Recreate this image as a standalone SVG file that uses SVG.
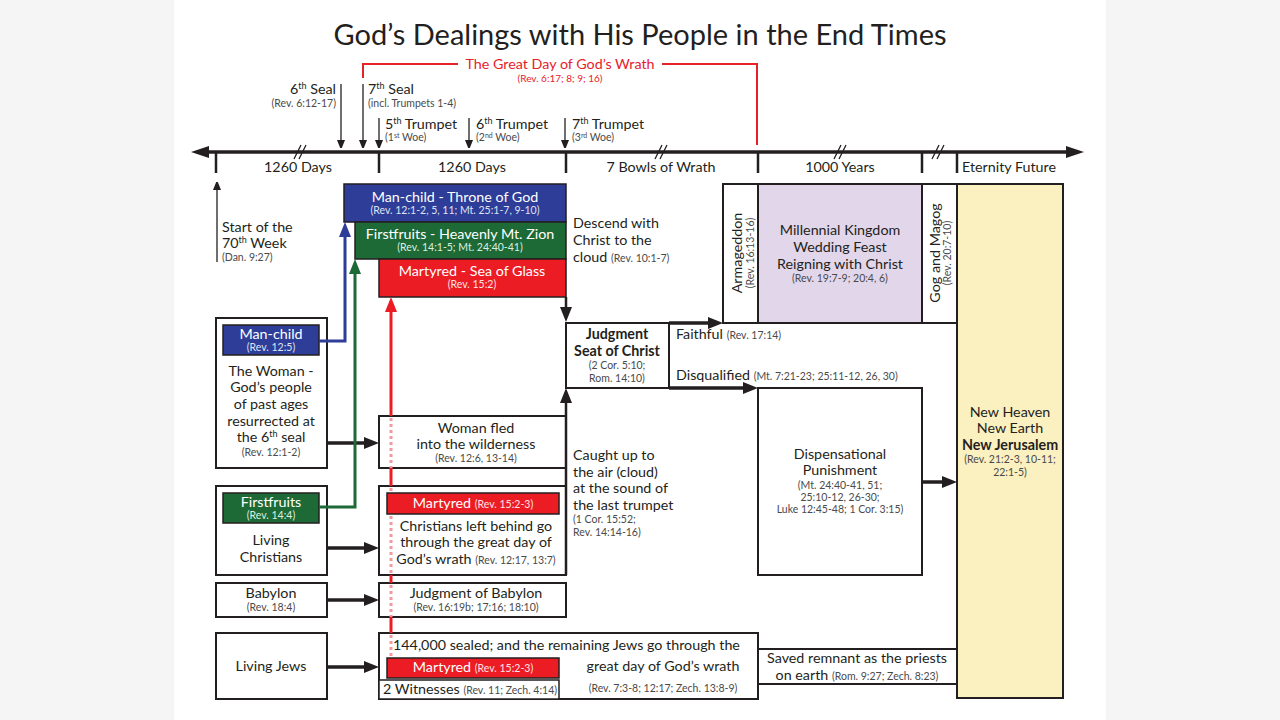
<svg xmlns="http://www.w3.org/2000/svg" width="1280" height="720" viewBox="0 0 1280 720">
<style>
text{font-family:Lato,"Liberation Sans",sans-serif;fill:#231f20}
.m{font-size:14.3px}
.s{font-size:10.5px;fill:#4a4a4a}
.w{fill:#fff}
.ws{fill:#fbe3e4}
.c{text-anchor:middle}
.e{text-anchor:end}
.b{font-weight:bold}
.box{fill:#fff;stroke:#231f20;stroke-width:2}
.blue{fill:#2e3d98;stroke:#231f20;stroke-width:1.5}
.green{fill:#1d6a36;stroke:#231f20;stroke-width:1.5}
.redbox{fill:#ec1c24;stroke:#231f20;stroke-width:1.5}
.thick{stroke:#231f20;stroke-width:3.5;fill:none}
.thin{stroke:#231f20;stroke-width:1.3;fill:none}
.tick{stroke:#231f20;stroke-width:2.5}
</style>
<defs>
<marker id="ah" markerUnits="userSpaceOnUse" markerWidth="15" markerHeight="12" refX="5" refY="6" orient="auto"><path d="M0,0 L15,6 L0,12 z" fill="#231f20"/></marker>
<marker id="at" markerUnits="userSpaceOnUse" markerWidth="18" markerHeight="12" refX="4" refY="6" orient="auto-start-reverse"><path d="M0,0 L18,6 L0,12 z" fill="#231f20"/></marker>
<marker id="as" markerUnits="userSpaceOnUse" markerWidth="8" markerHeight="10" refX="2" refY="4" orient="auto"><path d="M0,0 L10,4 L0,8 z" fill="#231f20"/></marker>
<marker id="ab" markerUnits="userSpaceOnUse" markerWidth="15" markerHeight="12" refX="5" refY="6" orient="auto"><path d="M0,0 L15,6 L0,12 z" fill="#2e3d98"/></marker>
<marker id="ag" markerUnits="userSpaceOnUse" markerWidth="15" markerHeight="12" refX="5" refY="6" orient="auto"><path d="M0,0 L15,6 L0,12 z" fill="#1d6a36"/></marker>
<marker id="ar" markerUnits="userSpaceOnUse" markerWidth="15" markerHeight="12" refX="5" refY="6" orient="auto"><path d="M0,0 L15,6 L0,12 z" fill="#ec1c24"/></marker>
</defs>
<rect x="0" y="0" width="1280" height="720" fill="#f5f5f5"/>
<rect x="174" y="0" width="932" height="720" fill="#fff"/>

<text x="640" y="45" class="c" font-size="29">God’s Dealings with His People in the End Times</text>

<g id="timeline">
<path d="M363,78 V64 H458 M662,64 H757 V145" stroke="#e8202a" stroke-width="2" fill="none"/>
<text x="560" y="69" class="c" font-size="14.3" style="fill:#e8202a">The Great Day of God’s Wrath</text>
<text x="560" y="82" class="c" font-size="10" style="fill:#e8202a">(Rev. 6:17; 8; 9; 16)</text>
<path d="M205,152 H1070" stroke="#231f20" stroke-width="3.5" marker-start="url(#at)" marker-end="url(#at)"/>
<path class="tick" d="M216,152 V173 M379,152 V173 M566,152 V173 M758,152 V173 M922,152 V173 M957,152 V173"/>
<path stroke="#231f20" stroke-width="1.3" d="M294,159 L301,145 M299,159 L306,145 M655,159 L662,145 M660,159 L667,145 M834,159 L841,145 M839,159 L846,145 M932,159 L939,145 M937,159 L944,145"/>
<text x="336" y="94" class="m e">6<tspan font-size="9" dy="-5">th</tspan><tspan dy="5"> Seal</tspan></text>
<text x="336" y="107" class="s e">(Rev. 6:12-17)</text>
<text x="368" y="94" class="m">7<tspan font-size="9" dy="-5">th</tspan><tspan dy="5"> Seal</tspan></text>
<text x="368" y="107" class="s">(incl. Trumpets 1-4)</text>
<text x="385" y="129" class="m">5<tspan font-size="9" dy="-5">th</tspan><tspan dy="5"> Trumpet</tspan></text>
<text x="385" y="141" class="s">(1<tspan font-size="7" dy="-3">st</tspan><tspan dy="3"> Woe)</tspan></text>
<text x="476" y="129" class="m">6<tspan font-size="9" dy="-5">th</tspan><tspan dy="5"> Trumpet</tspan></text>
<text x="476" y="141" class="s">(2<tspan font-size="7" dy="-3">nd</tspan><tspan dy="3"> Woe)</tspan></text>
<text x="572" y="129" class="m">7<tspan font-size="9" dy="-5">th</tspan><tspan dy="5"> Trumpet</tspan></text>
<text x="572" y="141" class="s">(3<tspan font-size="7" dy="-3">rd</tspan><tspan dy="3"> Woe)</tspan></text>
<text x="298" y="172" class="m c">1260 Days</text>
<text x="472" y="172" class="m c">1260 Days</text>
<text x="661" y="172" class="m c">7 Bowls of Wrath</text>
<text x="840" y="172" class="m c">1000 Years</text>
<text x="1009" y="172" class="m c">Eternity Future</text>
<text x="222" y="232" class="m">Start of the</text>
<text x="222" y="248" class="m">70<tspan font-size="9" dy="-5">th</tspan><tspan dy="5"> Week</tspan></text>
<text x="222" y="261" class="s">(Dan. 9:27)</text>
</g>

<g id="manchild-throne">
<rect x="344" y="184" width="222" height="38" class="blue"/>
<text x="455" y="202" class="m c w">Man-child - Throne of God</text>
<text x="455" y="214" class="s c" style="fill:#dfe3f5">(Rev. 12:1-2, 5, 11; Mt. 25:1-7, 9-10)</text>
</g>
<g id="firstfruits-zion">
<rect x="355" y="222" width="211" height="37" class="green"/>
<text x="460" y="239" class="m c w">Firstfruits - Heavenly Mt. Zion</text>
<text x="460" y="251" class="s c" style="fill:#dcefe0">(Rev. 14:1-5; Mt. 24:40-41)</text>
</g>
<g id="martyred-glass">
<rect x="379" y="259" width="187" height="38" class="redbox"/>
<text x="472" y="276" class="m c w">Martyred - Sea of Glass</text>
<text x="472" y="288" class="s c ws">(Rev. 15:2)</text>
</g>
<g id="descend-label">
<text x="573" y="228" class="m">Descend with</text>
<text x="573" y="245" class="m">Christ to the</text>
<text x="573" y="262" class="m">cloud <tspan class="s">(Rev. 10:1-7)</tspan></text>
</g>

<g id="woman">
<rect x="216" y="318" width="111" height="150" class="box"/>
<rect x="223" y="325" width="96" height="30" class="blue"/>
<text x="271" y="339" class="m c w">Man-child</text>
<text x="271" y="351" class="s c" style="fill:#dfe3f5">(Rev. 12:5)</text>
<text x="271" y="376" class="m c">The Woman -</text>
<text x="271" y="392" class="m c">God’s people</text>
<text x="271" y="409" class="m c">of past ages</text>
<text x="271" y="426" class="m c">resurrected at</text>
<text x="271" y="442" class="m c">the 6<tspan font-size="9" dy="-5">th</tspan><tspan dy="5"> seal</tspan></text>
<text x="271" y="456" class="s c">(Rev. 12:1-2)</text>
</g>
<g id="woman-fled">
<rect x="379" y="416" width="187" height="52" class="box"/>
<text x="476" y="433" class="m c">Woman fled</text>
<text x="476" y="449" class="m c">into the wilderness</text>
<text x="476" y="462" class="s c">(Rev. 12:6, 13-14)</text>
</g>
<g id="living-christians">
<rect x="216" y="486" width="111" height="89" class="box"/>
<rect x="223" y="493" width="96" height="30" class="green"/>
<text x="271" y="507" class="m c w">Firstfruits</text>
<text x="271" y="519" class="s c" style="fill:#dcefe0">(Rev. 14:4)</text>
<text x="271" y="545" class="m c">Living</text>
<text x="271" y="562" class="m c">Christians</text>
</g>
<g id="christians-left">
<rect x="379" y="486" width="187" height="89" class="box"/>
<text x="476" y="531" class="m c">Christians left behind go</text>
<text x="476" y="547" class="m c">through the great day of</text>
<text x="476" y="564" class="m c">God’s wrath <tspan class="s">(Rev. 12:17, 13:7)</tspan></text>
</g>
<g id="babylon">
<rect x="216" y="583" width="111" height="34" class="box"/>
<text x="271" y="598" class="m c">Babylon</text>
<text x="271" y="611" class="s c">(Rev. 18:4)</text>
</g>
<g id="judgment-babylon">
<rect x="379" y="583" width="187" height="34" class="box"/>
<text x="476" y="598" class="m c">Judgment of Babylon</text>
<text x="476" y="611" class="s c">(Rev. 16:19b; 17:16; 18:10)</text>
</g>
<g id="living-jews">
<rect x="216" y="633" width="111" height="66" class="box"/>
<text x="271" y="671" class="m c">Living Jews</text>
</g>
<g id="jews-144000">
<rect x="379" y="633" width="379" height="66" class="box"/>
<text x="393" y="650" class="m">144,000 sealed; and the remaining Jews go through the</text>
<text x="663" y="671" class="m c">great day of God’s wrath</text>
<text x="663" y="692" class="s c">(Rev. 7:3-8; 12:17; Zech. 13:8-9)</text>
<rect x="379" y="680" width="180" height="19" fill="#fff" stroke="#231f20" stroke-width="1.5"/>
<text x="383" y="694" class="m">2 Witnesses <tspan class="s">(Rev. 11; Zech. 4:14)</tspan></text>
</g>
<g id="saved-remnant">
<rect x="758" y="649" width="199" height="35" class="box"/>
<text x="857" y="663" class="m c">Saved remnant as the priests</text>
<text x="857" y="680" class="m c">on earth <tspan class="s">(Rom. 9:27; Zech. 8:23)</tspan></text>
</g>
<g id="judgment-seat">
<rect x="566" y="323" width="103" height="65" class="box"/>
<text x="617" y="339" class="m c b">Judgment</text>
<text x="617" y="356" class="m c b">Seat of Christ</text>
<text x="617" y="369" class="s c">(2 Cor. 5:10;</text>
<text x="617" y="382" class="s c">Rom. 14:10)</text>
</g>
<g id="caught-up-label">
<text x="573" y="460" class="m">Caught up to</text>
<text x="573" y="477" class="m">the air (cloud)</text>
<text x="573" y="493" class="m">at the sound of</text>
<text x="573" y="510" class="m">the last trumpet</text>
<text x="573" y="523" class="s">(1 Cor. 15:52;</text>
<text x="573" y="536" class="s">Rev. 14:14-16)</text>
</g>
<g id="armageddon">
<rect x="723" y="184" width="35" height="139" class="box"/>
<text transform="translate(742,253) rotate(-90)" class="m c">Armageddon</text>
<text transform="translate(754,253) rotate(-90)" class="s c">(Rev. 16:13-16)</text>
</g>
<g id="millennial">
<rect x="758" y="184" width="164" height="139" fill="#e2d6ea" stroke="#231f20" stroke-width="2"/>
<text x="840" y="235" class="m c">Millennial Kingdom</text>
<text x="840" y="252" class="m c">Wedding Feast</text>
<text x="840" y="269" class="m c">Reigning with Christ</text>
<text x="840" y="282" class="s c">(Rev. 19:7-9; 20:4, 6)</text>
</g>
<g id="gog-magog">
<rect x="922" y="184" width="35" height="139" class="box"/>
<text transform="translate(940,253) rotate(-90)" class="m c">Gog and Magog</text>
<text transform="translate(951,253) rotate(-90)" class="s c">(Rev. 20:7-10)</text>
</g>
<g id="faithful-labels">
<text x="676" y="339" class="m">Faithful <tspan class="s">(Rev. 17:14)</tspan></text>
<text x="676" y="380" class="m">Disqualified <tspan class="s">(Mt. 7:21-23; 25:11-12, 26, 30)</tspan></text>
</g>
<g id="dispensational">
<rect x="758" y="388" width="164" height="187" class="box"/>
<text x="840" y="459" class="m c">Dispensational</text>
<text x="840" y="475" class="m c">Punishment</text>
<text x="840" y="489" class="s c">(Mt. 24:40-41, 51;</text>
<text x="840" y="501" class="s c">25:10-12, 26-30;</text>
<text x="840" y="513" class="s c">Luke 12:45-48; 1 Cor. 3:15)</text>
</g>
<g id="new-heaven">
<rect x="957" y="184" width="106" height="514" fill="#fbf0c0" stroke="#231f20" stroke-width="2"/>
<text x="1010" y="417" class="m c">New Heaven</text>
<text x="1010" y="433" class="m c">New Earth</text>
<text x="1010" y="450" class="m c b">New Jerusalem</text>
<text x="1010" y="463" class="s c">(Rev. 21:2-3, 10-11;</text>
<text x="1010" y="476" class="s c">22:1-5)</text>
</g>

<g id="connectors">
<path class="thin" d="M217,262 V188" marker-end="url(#as)"/>
<path class="thin" d="M341,84 V142" marker-end="url(#as)"/>
<path class="thin" d="M363,84 V142" marker-end="url(#as)"/>
<path class="thin" d="M379,118 V142" marker-end="url(#as)"/>
<path class="thin" d="M469,118 V142" marker-end="url(#as)"/>
<path class="thin" d="M565,118 V142" marker-end="url(#as)"/>
<path class="thick" d="M327,443 H369" marker-end="url(#ah)"/>
<path class="thick" d="M327,548 H369" marker-end="url(#ah)"/>
<path class="thick" d="M327,600 H369" marker-end="url(#ah)"/>
<path class="thick" d="M327,667 H369" marker-end="url(#ah)"/>
<path stroke="#231f20" stroke-width="2.5" fill="none" d="M566,297 V312" marker-end="url(#ah)"/>
<path stroke="#231f20" stroke-width="2.5" fill="none" d="M566,575 V398" marker-end="url(#ah)"/>
<path class="thick" d="M669,323 H713" marker-end="url(#ah)"/>
<path class="thick" d="M669,388 H748" marker-end="url(#ah)"/>
<path class="thick" d="M922,482 H947" marker-end="url(#ah)"/>
<path d="M319,341 H345 V232" stroke="#2e3d98" stroke-width="3" fill="none" marker-end="url(#ab)"/>
<path d="M319,507 H355 V269" stroke="#1d6a36" stroke-width="3" fill="none" marker-end="url(#ag)"/>
<path d="M391,416 V307" stroke="#ec1c24" stroke-width="3" fill="none" marker-end="url(#ar)"/>
<path d="M391,468 V486 M391,575 V583 M391,617 V633" stroke="#ec1c24" stroke-width="3" fill="none"/>
<path d="M391,418 V468 M391,488 V493 M391,516 V575 M391,585 V617 M391,635 V658" stroke="#f29aa0" stroke-width="3" stroke-dasharray="3,3" fill="none"/>
</g>

<g id="martyred-christians">
<rect x="387" y="493" width="172" height="21" class="redbox"/>
<text x="473" y="508" class="m c w">Martyred <tspan class="s ws">(Rev. 15:2-3)</tspan></text>
</g>
<g id="martyred-jews">
<rect x="387" y="658" width="172" height="20" class="redbox"/>
<text x="473" y="672" class="m c w">Martyred <tspan class="s ws">(Rev. 15:2-3)</tspan></text>
</g>
</svg>
